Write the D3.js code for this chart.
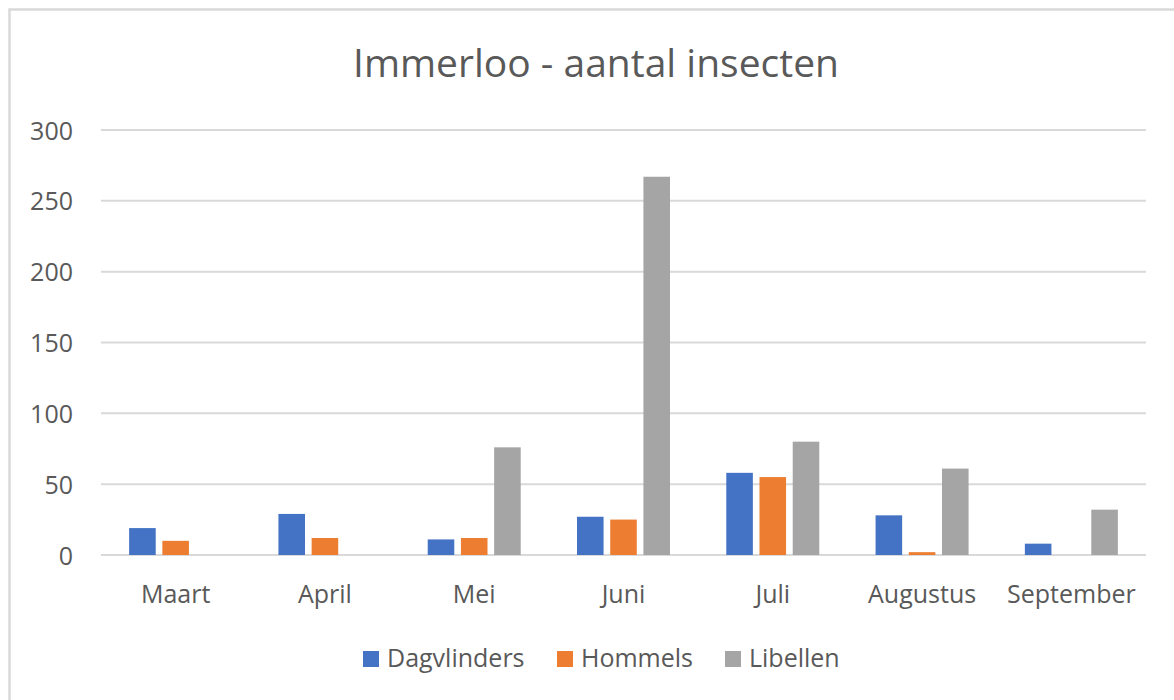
<!DOCTYPE html>
<html>
<head>
<meta charset="utf-8">
<script src="https://cdn.jsdelivr.net/npm/d3@7"></script>
<style>
  html, body { margin: 0; padding: 0; background: #fff; }
  svg { display: block; }
  text { font-family: "Open Sans", "Noto Sans", sans-serif; fill: #595959; }
</style>
</head>
<body>
<svg width="1174" height="700"></svg>
<script>
// data
var months = ['Maart', 'April', 'Mei', 'Juni', 'Juli', 'Augustus', 'September'];
var seriesNames = ['Dagvlinders', 'Hommels', 'Libellen'];
var dagvlinders = [19, 29, 11, 27, 58, 28, 8];
var hommels = [10, 12, 12, 25, 55, 2, 0];
var libellen = [0, 0, 76, 267, 80, 61, 32];
var yTicks = [0, 50, 100, 150, 200, 250, 300];
var colors = ['#4472C4', '#ED7D31', '#A5A5A5'];

var values = [dagvlinders, hommels, libellen];

var svg = d3.select('svg');

// chart area frame (right and bottom edges fall outside the picture)
svg.append('rect')
  .attr('x', 9.5).attr('y', 9.5)
  .attr('width', 1200).attr('height', 800)
  .attr('fill', 'none')
  .attr('stroke', '#d9d9d9')
  .attr('stroke-width', 2.5);

var plotLeft = 101, plotRight = 1146, plotTop = 130, plotBottom = 555;

var x0 = d3.scaleBand().domain(months).range([plotLeft, plotRight])
  .paddingInner(0.377).paddingOuter(0.1885);
var x1 = d3.scaleBand().domain(seriesNames).range([0, x0.bandwidth()])
  .paddingInner(0.2);
var y = d3.scaleLinear().domain([0, 300]).range([plotBottom, plotTop]);

// gridlines
svg.append('g')
  .selectAll('line').data(yTicks).enter()
  .append('line')
  .attr('x1', plotLeft).attr('x2', plotRight)
  .attr('y1', function (d) { return y(d); })
  .attr('y2', function (d) { return y(d); })
  .attr('stroke', '#d9d9d9')
  .attr('stroke-width', 2);

// y axis labels
var yAxis = svg.append('g')
  .attr('transform', 'translate(' + (plotLeft - 28) + ',0)')
  .call(d3.axisLeft(y).tickValues(yTicks).tickSize(0).tickPadding(0));
yAxis.select('.domain').remove();
yAxis.selectAll('text')
  .attr('font-size', 25)
  .attr('dy', '0.36em')
  .style('font-family', '"Open Sans", sans-serif')
  .attr('fill', '#595959');

// bars
var groups = svg.append('g')
  .selectAll('g').data(months).enter()
  .append('g')
  .attr('transform', function (d) { return 'translate(' + x0(d) + ',0)'; });

groups.selectAll('rect')
  .data(function (m, i) {
    return seriesNames.map(function (s, k) { return { s: s, k: k, v: values[k][i] }; })
      .filter(function (d) { return d.v > 0; });
  })
  .enter()
  .append('rect')
  .attr('x', function (d) { return x1(d.s); })
  .attr('width', x1.bandwidth())
  .attr('y', function (d) { return y(d.v); })
  .attr('height', function (d) { return y(0) - y(d.v); })
  .attr('fill', function (d) { return colors[d.k]; });

// x axis labels
var xAxis = svg.append('g')
  .attr('transform', 'translate(0,' + (plotBottom + 24) + ')')
  .call(d3.axisBottom(x0).tickSize(0).tickPadding(0));
xAxis.select('.domain').remove();
xAxis.selectAll('text')
  .attr('font-size', 25)
  .attr('dy', '0.96em')
  .style('font-family', '"Open Sans", sans-serif')
  .attr('fill', '#595959');

// title
svg.append('text')
  .attr('x', 596).attr('y', 77)
  .attr('text-anchor', 'middle')
  .attr('font-size', 39)
  .text('Immerloo - aantal insecten');

// legend
var legendX = [363, 557, 725];
var legend = svg.append('g')
  .selectAll('g').data(seriesNames).enter()
  .append('g')
  .attr('transform', function (d, i) { return 'translate(' + legendX[i] + ',651)'; });
legend.append('rect')
  .attr('width', 16).attr('height', 16)
  .attr('fill', function (d, i) { return colors[i]; });
legend.append('text')
  .attr('x', 24).attr('y', 16)
  .attr('font-size', 25)
  .text(function (d) { return d; });
</script>
</body>
</html>
